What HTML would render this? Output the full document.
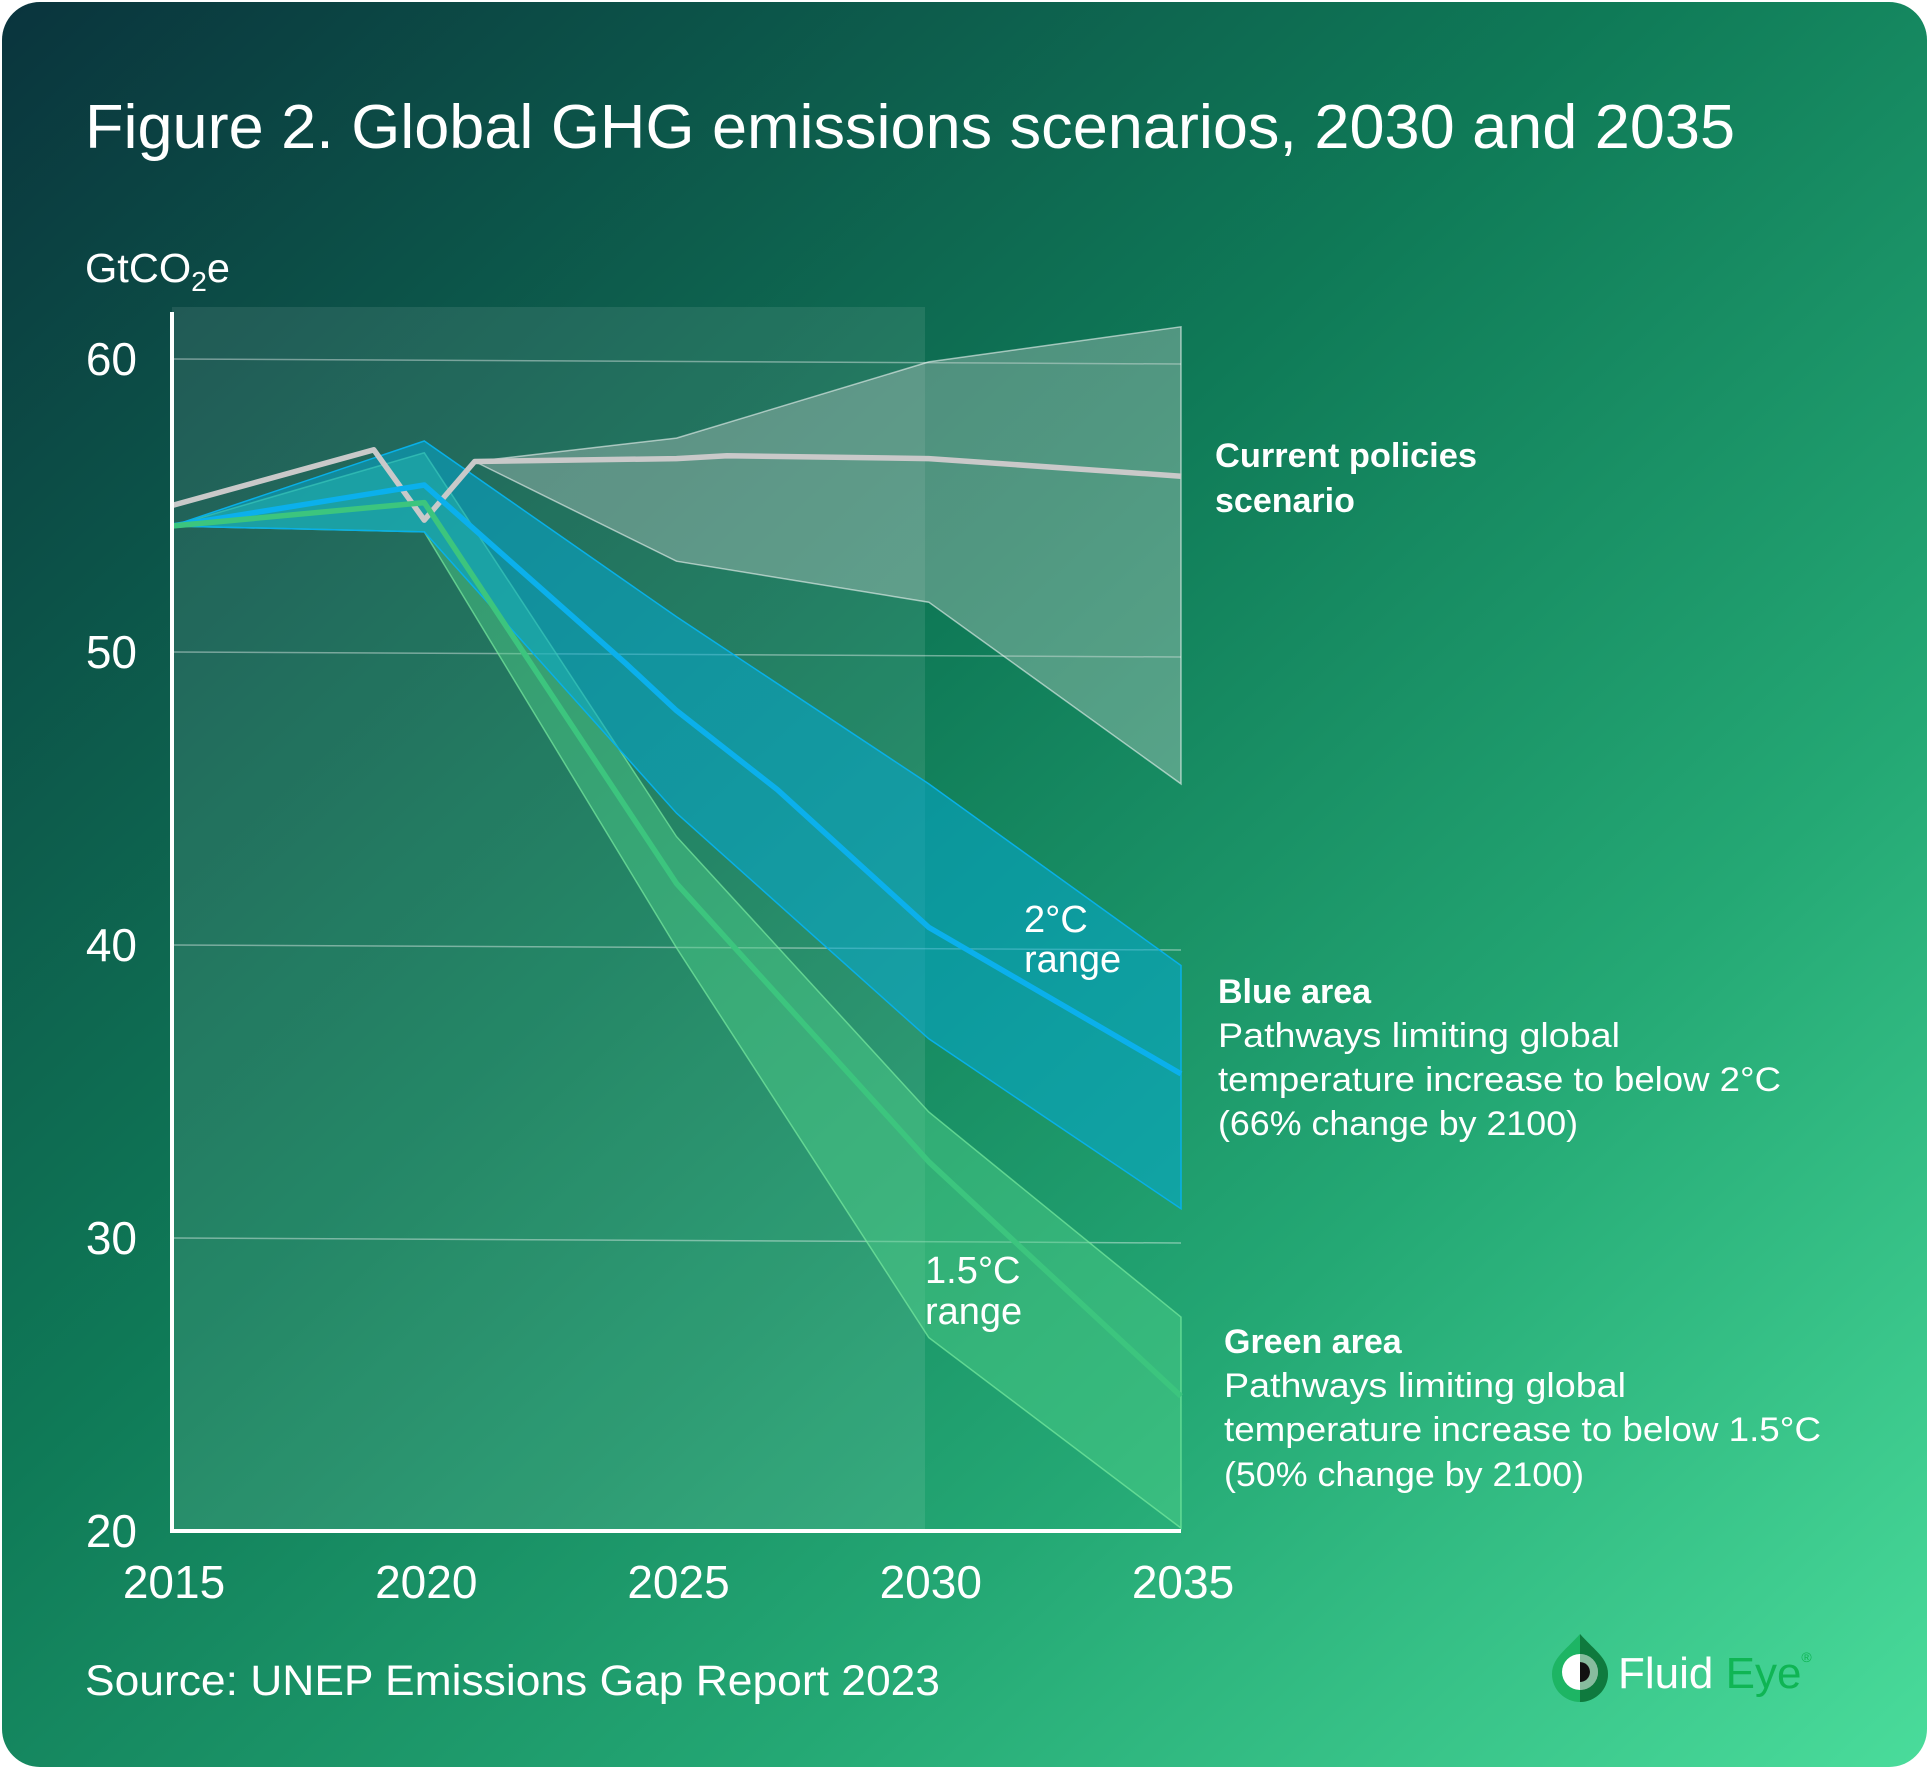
<!DOCTYPE html>
<html><head><meta charset="utf-8"><style>
html,body{margin:0;padding:0;background:#fff;}
svg{display:block;}
text{font-family:"Liberation Sans",sans-serif;fill:#fff;}
</style></head><body>
<svg id="chart" width="1929" height="1769" viewBox="0 0 1929 1769" xmlns="http://www.w3.org/2000/svg">
<defs>
<linearGradient id="bg" x1="0" y1="0" x2="1" y2="1">
<stop offset="0" stop-color="#0a343d"/>
<stop offset="0.42" stop-color="#0f7a57"/>
<stop offset="0.7" stop-color="#24a874"/>
<stop offset="1" stop-color="#4adc9b"/>
</linearGradient>
</defs>
<rect x="2" y="2" width="1925" height="1765" rx="38" fill="url(#bg)"/>
<rect x="172" y="307" width="753" height="1224" fill="#ffffff" fill-opacity="0.09"/>
<g id="grid"></g>
<g id="bands"></g>
<g id="lines"></g>
<g id="axes"></g>
<text x="85" y="148" font-size="62" textLength="1650" lengthAdjust="spacingAndGlyphs">Figure 2. Global GHG emissions scenarios, 2030 and 2035</text>
<text x="85" y="282" font-size="41" textLength="145" lengthAdjust="spacingAndGlyphs">GtCO<tspan font-size="28" dy="9">2</tspan><tspan dy="-9">e</tspan></text>
<text font-size="34" font-weight="bold"><tspan x="1215" y="467" textLength="262" lengthAdjust="spacingAndGlyphs">Current policies</tspan><tspan x="1215" y="512">scenario</tspan></text>
<text font-size="38"><tspan x="1024" y="932">2°C</tspan><tspan x="1024" y="972">range</tspan></text>
<text font-size="38"><tspan x="925" y="1283">1.5°C</tspan><tspan x="925" y="1324">range</tspan></text>
<text font-size="34"><tspan x="1218" y="1003" font-weight="bold">Blue area</tspan><tspan x="1218" y="1047" textLength="402" lengthAdjust="spacingAndGlyphs">Pathways limiting global</tspan><tspan x="1218" y="1091" textLength="563" lengthAdjust="spacingAndGlyphs">temperature increase to below 2°C</tspan><tspan x="1218" y="1135" textLength="360" lengthAdjust="spacingAndGlyphs">(66% change by 2100)</tspan></text>
<text font-size="34"><tspan x="1224" y="1353" font-weight="bold">Green area</tspan><tspan x="1224" y="1397" textLength="402" lengthAdjust="spacingAndGlyphs">Pathways limiting global</tspan><tspan x="1224" y="1441" textLength="597" lengthAdjust="spacingAndGlyphs">temperature increase to below 1.5°C</tspan><tspan x="1224" y="1486" textLength="360" lengthAdjust="spacingAndGlyphs">(50% change by 2100)</tspan></text>
<text x="85" y="1695" font-size="43" textLength="855" lengthAdjust="spacingAndGlyphs">Source: UNEP Emissions Gap Report 2023</text>
<g>
<path d="M1580 1634 C1566 1650 1552 1658 1552 1674 A28 28 0 0 0 1608 1674 C1608 1658 1594 1650 1580 1634 Z" fill="#1db564"/>
<path d="M1580 1634 C1594 1650 1608 1658 1608 1674 A28 28 0 0 1 1580 1702 Z" fill="#0f7a3e"/>
<circle cx="1580" cy="1672" r="18" fill="#ffffff"/>
<path d="M1580 1662 A10 10 0 0 1 1580 1682 Z" fill="#111"/>
<path d="M1580 1654 A18 18 0 0 1 1580 1690 L1580 1682 A10 10 0 0 0 1580 1662 Z" fill="#0f7a3e" fill-opacity="0.5"/>
<text x="1618" y="1688" font-size="44">Fluid <tspan style="fill:#0fb554">Eye</tspan><tspan font-size="14" dy="-26" style="fill:#0fb554">®</tspan></text>
</g>
</svg>
<script>
const years = [2015, 2016, 2017, 2018, 2019, 2020, 2021, 2022, 2023, 2024, 2025, 2026, 2027, 2028, 2029, 2030, 2031, 2032, 2033, 2034, 2035];
const yTicks = [20, 30, 40, 50, 60];
const xTickYears = [2015, 2020, 2025, 2030, 2035];
// current policies
const cpLineYears = [2015, 2019, 2020, 2021, 2025, 2026, 2030, 2035];
const cpLineVals = [55.0, 56.9, 54.5, 56.5, 56.6, 56.7, 56.6, 56.0];
const cpBandYears = [2021, 2025, 2030, 2035];
const cpUpper = [56.5, 57.3, 59.9, 61.1];
const cpLower = [56.5, 53.1, 51.7, 45.5];
// 2°C pathways
const bandYears = [2015, 2020, 2025, 2030, 2035];
const blueUpper = [54.3, 57.2, 51.2, 45.5, 39.3];
const blueLower = [54.3, 54.1, 44.5, 36.8, 31.0];
const blueMedYears = [2015, 2020, 2024, 2025, 2027, 2030, 2035];
const blueMedian = [54.3, 55.7, 49.6, 48.0, 45.3, 40.6, 35.6];
// 1.5°C pathways
const greenUpper = [54.3, 56.8, 43.7, 34.3, 27.3];
const greenLower = [54.3, 54.1, 39.9, 26.6, 20.1];
const greenMedian = [54.3, 55.1, 42.1, 32.6, 24.6];

const X0 = 172, X1 = 1181, Y0 = 1531, Y1 = 359;
function xs(yr){ return X0 + (yr - 2015) / 20 * (X1 - X0); }
function ys(v){ return Y0 - (v - 20) / 40 * (Y0 - Y1); }
const NS = 'http://www.w3.org/2000/svg';
function mk(tag, parent){ const e = document.createElementNS(NS, tag); document.getElementById(parent).appendChild(e); return e; }
function pts(yrs, vals){ return yrs.map((y,i)=>xs(y).toFixed(1)+','+ys(vals[i]).toFixed(1)); }
function band(yrs, up, lo, fill, op, stroke, name){
  const p = mk('polygon','bands');
  
  
  p.setAttribute('points', pts(yrs, up).concat(pts(yrs, lo).reverse()).join(' '));
  p.setAttribute('fill', fill); p.setAttribute('fill-opacity', op);
  p.setAttribute('stroke', stroke); p.setAttribute('stroke-width', '1.5');
}
function line(yrs, vals, color, name){
  const p = mk('polyline','lines');
  
  
  p.setAttribute('points', pts(yrs, vals).join(' '));
  p.setAttribute('fill', 'none'); p.setAttribute('stroke', color); p.setAttribute('stroke-width', '5.5');
  p.setAttribute('stroke-linejoin', 'round');
}
yTicks.forEach(t=>{
  if (t > 20) {
    const l = mk('line','grid');
    
    
    l.setAttribute('x1', X0); l.setAttribute('x2', X1); l.setAttribute('y1', ys(t)); l.setAttribute('y2', ys(t) + 5);
    l.setAttribute('stroke', '#ffffff'); l.setAttribute('stroke-opacity', '0.4'); l.setAttribute('stroke-width', '1.5');
  }
  const tx = mk('text','axes');
  
  
  tx.setAttribute('x', 137); tx.setAttribute('y', ys(t) + 16);
  tx.setAttribute('font-size', '46'); tx.setAttribute('text-anchor', 'end');
  tx.textContent = t;
});
xTickYears.forEach(yr=>{
  const tx = mk('text','axes');
  
  
  tx.setAttribute('x', xs(yr) + 2); tx.setAttribute('y', 1598);
  tx.setAttribute('font-size', '46'); tx.setAttribute('text-anchor', 'middle');
  tx.textContent = yr;
});
band(cpBandYears, cpUpper, cpLower, '#c8d0cc', '0.36', 'rgba(255,255,255,0.55)', 'current-policies-band');
line(cpLineYears, cpLineVals, '#c9c9c9', 'current-policies-line');
band(bandYears, greenUpper, greenLower, '#4fd08a', '0.45', 'rgba(120,235,160,0.7)', 'green-1-5c-band');
band(bandYears, blueUpper, blueLower, '#06a8d0', '0.55', '#08b0e8', 'blue-2c-band');
line(blueMedYears, blueMedian, '#0bb0ec', 'blue-2c-median-line');
line(bandYears, greenMedian, '#3cc57e', 'green-1-5c-median-line');
const ax = mk('polyline','axes');


ax.setAttribute('points', X0+',312 '+X0+','+Y0+' '+X1+','+Y0);
ax.setAttribute('fill','none'); ax.setAttribute('stroke','#ffffff'); ax.setAttribute('stroke-width','4');
</script>
</body></html>
